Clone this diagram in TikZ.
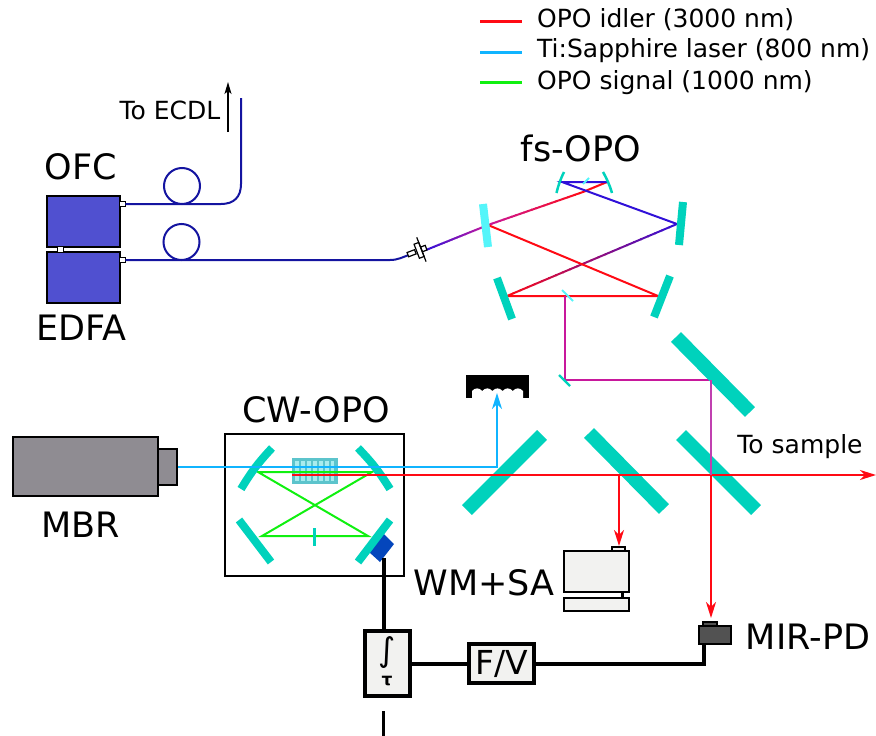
\documentclass[tikz,border=0pt]{standalone}
\usepackage{fontspec}
\setmainfont{DejaVu Sans}
\usetikzlibrary{arrows.meta,calc}
\definecolor{mirr}{HTML}{00D2BC}
\definecolor{lcyan}{HTML}{55F5FA}
\definecolor{ired}{HTML}{FF0A14}
\definecolor{tiblue}{HTML}{10B4FF}
\definecolor{ogreen}{HTML}{10F010}
\definecolor{fsblue}{HTML}{3010D8}
\definecolor{fibre}{HTML}{1414A0}
\definecolor{magen}{HTML}{C8189C}
\definecolor{magen2}{HTML}{C040B0}
\definecolor{boxblue}{HTML}{5050D0}
\definecolor{panel}{HTML}{F2F2F0}
\definecolor{greyb}{HTML}{8F8C92}
\definecolor{xtal}{HTML}{5CC4CC}
\definecolor{xtall}{HTML}{A8ECEE}
\definecolor{detblue}{HTML}{0446BC}
\tikzset{
  x=1pt,y=-1pt,
  mirror/.style={draw=mirr,line width=#1,line cap=butt},
  mirror/.default=8pt,
  beam/.style={line width=2pt,line join=miter},
  arrowbeam/.style={beam,-{Stealth[length=16pt,width=10pt,inset=5pt]}},
  fib/.style={draw=fibre,line width=2pt},
  lab/.style={inner sep=0pt,font=\fontsize{35}{35}\selectfont},
  labs/.style={inner sep=0pt,font=\fontsize{25}{25}\selectfont},
  inst/.style={draw=black,line width=2pt,fill=#1,inner sep=0pt,outer sep=0pt,anchor=north west},
  elec/.style={draw=black,line width=4pt},
  ebox/.style={draw=black,line width=4pt,fill=panel,inner sep=0pt,outer sep=0pt,anchor=north west},
  port/.style={draw=black,line width=1.2pt,fill=white,inner sep=0pt,outer sep=0pt,minimum size=5.5pt},
}
\newcommand{\gradseg}[4]{% from, to, col1, col2
  \foreach \i in {1,...,24}{%
    \pgfmathsetmacro{\pa}{(\i-1)/24}\pgfmathsetmacro{\pb}{(\i+0.15)/24}%
    \pgfmathsetmacro{\pc}{100*(\i-0.5)/24}%
    \draw[line width=2pt,color=#4!\pc!#3] ($(#1)!\pa!(#2)$) -- ($(#1)!\pb!(#2)$);}}
\begin{document}
\begin{tikzpicture}
\useasboundingbox (0,0) rectangle (876,736);
% --- coordinates of the fs-OPO beam path
\coordinate (fa) at (562,182);
\coordinate (fb) at (607,182);
\coordinate (fc) at (677,224);
\coordinate (fd) at (507,296);
\coordinate (fe) at (658,296);
\coordinate (ff) at (488,225);
\coordinate (fx) at (583,192);
\coordinate (conn) at (426,250);
\coordinate (fg) at (565,296);
\coordinate (fh) at (565,380);
\coordinate (fi) at (711,380);
\coordinate (fj) at (711,475);
\coordinate (fk) at (711,618);
% --- legend
\coordinate (la1) at (480,21); \coordinate (la2) at (522,21);
\coordinate (lb1) at (480,52); \coordinate (lb2) at (522,52);
\coordinate (lc1) at (480,82); \coordinate (lc2) at (522,82);
\draw[ired,line width=3pt] (la1) -- (la2);
\draw[tiblue,line width=3pt] (lb1) -- (lb2);
\draw[ogreen,line width=3pt] (lc1) -- (lc2);
\node[labs,anchor=west] (lega) at (537,20) {OPO idler (3000 nm)};
\node[labs,anchor=west] (legb) at (537,51) {Ti:Sapphire laser (800 nm)};
\node[labs,anchor=west] (legc) at (537,83) {OPO signal (1000 nm)};
% --- OFC / EDFA
\node[inst=boxblue,minimum width=73pt,minimum height=51pt] (ofc) at (47,196) {};
\node[inst=boxblue,minimum width=73pt,minimum height=51pt] (edfa) at (47,252) {};
\node[port] (lnk) at (60.5,249.5) {};
\node[port] (po1) at (122.5,204) {};
\node[port] (po2) at (122.5,260) {};
\node[lab,anchor=center] (lofc) at (81,167) {OFC};
\node[lab,anchor=center] (ledfa) at (81,328) {EDFA};
\node[labs,anchor=center] (lecdl) at (170,110) {To ECDL};
% fibres
\coordinate (fend) at (241,98);
\coordinate (ecs) at (228,132); \coordinate (ect) at (228,82);
\draw[fib] (po1.east) -- (221,204) .. controls (234,204) and (241,197) .. (241,184) -- (fend);
\draw[fib] (182,186) circle[radius=18];
\draw[fib] (po2.east) -- (390,260) .. controls (398,260) and (403,257) .. (410,254.5);
\draw[fib] (181.5,242) circle[radius=18];
\draw[black,line width=1.4pt,-{Stealth[length=12pt,width=7pt,inset=3pt]}] (ecs) -- (ect);
% fs-OPO beams
\gradseg{conn}{ff}{fsblue}{magen}
\gradseg{ff}{fx}{magen}{ired}
\gradseg{fx}{fb}{ired}{ired}
\draw[fsblue,line width=2pt] (fb) -- (fa) -- (fc);
\gradseg{fc}{fd}{fsblue}{ired}
\draw[ired,line width=2pt,line join=miter] (fd) -- (fe) -- (ff);
\draw[magen,beam] (fg) -- (fh) -- (fi);
% fs-OPO mirrors
\draw[mirr,line width=2.5pt] (564,172) to[bend right=6] (556.5,193);
\draw[mirr,line width=2.5pt] (603,172) to[bend left=6] (612,193);
\draw[lcyan,line width=2pt] (589,178) -- (583,184);
\draw[lcyan,line width=8pt] (483,204) -- (488,247);
\draw[mirror] (683,202) -- (679,245);
\draw[mirror] (497,278) -- (512,319);
\draw[mirror] (670,276) -- (654,317);
\draw[lcyan,line width=2pt] (562,290) -- (573,301);
\draw[mirr,line width=2.2pt] (559,375) -- (570,386);
% fibre connector
\begin{scope}[shift={(420,250)},rotate=21]
  \node[draw=black,line width=1.2pt,fill=white,minimum width=8pt,minimum height=4.5pt,inner sep=0pt,transform shape] (c1) at (-9,0) {};
  \node[draw=black,line width=1.2pt,fill=white,minimum width=5pt,minimum height=5pt,inner sep=0pt,transform shape] (c3) at (4,0) {};
  \node[draw=black,line width=1.2pt,fill=white,minimum width=5pt,minimum height=15pt,inner sep=0pt,transform shape] (c2) at (-1,0) {};
  \draw[black,line width=1.2pt] (1.5,-13) -- (1.5,13);
\end{scope}
\node[lab,anchor=center] (lfs) at (581,148) {fs-OPO};
% --- CW-OPO
\node[draw=black,line width=2.5pt,minimum width=179pt,minimum height=142pt,inner sep=0pt,outer sep=0pt,anchor=north west] (cw) at (225,434) {};
\node[lab,anchor=center] (lcw) at (316,410) {CW-OPO};
% crystal
\fill[xtal] (292,458) rectangle (338,484);
\foreach \xx in {297,303,309,315,321,327,332.5}{\fill[xtall] (\xx-1.7,461) rectangle (\xx+1.7,481);}
\coordinate (ga) at (258,472); \coordinate (gb) at (372,472);
\coordinate (gc) at (262,536); \coordinate (gd) at (368,536);
\draw[ogreen,line width=2pt,line join=miter] (ga) -- (gb) -- (gc) -- (gd) -- cycle;
\draw[mirror] (272,448) to[bend right=6] (241,489);
\draw[mirror] (358,448) to[bend left=6] (390,489);
\draw[mirror] (239,520) -- (271,562);
\fill[detblue] (384,534) -- (394,544) -- (380,562) -- (369,552) -- cycle;
\draw[mirror] (390,520) -- (358,562);
\draw[mirr,line width=3pt] (314,528) -- (314,546);
% --- mirrors of the outer table
\draw[mirror=14pt] (467,510) -- (542,435);
\draw[mirror=14pt] (589,433) -- (664,509);
\draw[mirror=14pt] (681,435) -- (756,510);
\draw[mirror=14pt] (676,337) -- (750,412);
% --- MBR
\node[inst=greyb,minimum width=145pt,minimum height=59pt,line width=2.5pt] (mbr) at (13,437) {};
\node[inst=greyb,minimum width=19pt,minimum height=36pt,line width=2.5pt] (mbrh) at (158,449) {};
\node[lab,anchor=center] (lmbr) at (81,525) {MBR};
% --- beam dump
\fill[black] (466,375) rectangle (529,398);
\fill[white] (472,398.5) -- (472,391)
  \foreach \k in {1,...,5}{ .. controls +(3,-3.5) and +(-3,-3.5) .. ++(10.2,0) }
  -- (523,398.5) -- cycle;
% --- beams of the outer table
\coordinate (be1) at (178,467); \coordinate (be2) at (497,467); \coordinate (be3) at (497,393);
\draw[tiblue,arrowbeam] (be1) -- (be2) -- (be3);
\coordinate (r1) at (292,475); \coordinate (r2) at (876,475);
\draw[ired,arrowbeam] (r1) -- (r2);
\coordinate (r3) at (619,475); \coordinate (r4) at (619,546);
\draw[ired,arrowbeam] (r3) -- (r4);
\draw[magen2,beam] (fi) -- (fj);
\draw[ired,arrowbeam] (fj) -- (fk);
\node[labs,anchor=center] (lts) at (800,447) {To sample};
% --- electronics
\node[ebox,minimum width=45pt,minimum height=65pt] (int) at (365,631) {};
\node[inner sep=0pt,font=\fontsize{33}{33}\selectfont] (intg) at (387,653) {∫};
\node[inner sep=0pt,font=\fontsize{17}{17}\bfseries\selectfont] (tau) at (387,681) {τ};
\node[ebox,minimum width=65pt,minimum height=39pt,font=\fontsize{33}{33}\selectfont] (fv) at (469,644) {F/V};
\node[inst=black!68,minimum width=32pt,minimum height=18pt] (pd) at (699,626) {};
\node[inst=black!68,minimum width=14pt,minimum height=4pt,line width=1.2pt] (pdt) at (703,622) {};
\coordinate (det) at (383.5,558);
\coordinate (detb) at (383.5,631);
\coordinate (pdb) at (704,644);
\draw[elec] (det) -- (detb);
\draw[elec] (int.east) -- (fv.west);
\draw[elec,line join=miter] (fv.east) -- (704,663.5) -- (pdb);
\coordinate (bo1) at (383.5,711); \coordinate (bo2) at (383.5,736);
\draw[black,line width=3.5pt] (bo1) -- (bo2);
\node[lab,anchor=center] (lpd) at (808,637) {MIR-PD};
% --- WM+SA computer
\node[inst=panel,minimum width=65pt,minimum height=41pt] (mon) at (564,551) {};
\node[inst=panel,minimum width=13pt,minimum height=4pt,line width=1.2pt] (mont) at (612,547) {};
\node[inst=panel,minimum width=65pt,minimum height=13pt] (kbd) at (564,598) {};
\coordinate (mons) at (622.5,592); \coordinate (kbdn) at (622.5,598);
\draw[black,line width=3pt] (mons) -- (kbdn);
\node[lab,anchor=center] (lwm) at (484,583) {WM+SA};
\end{tikzpicture}
\end{document}
